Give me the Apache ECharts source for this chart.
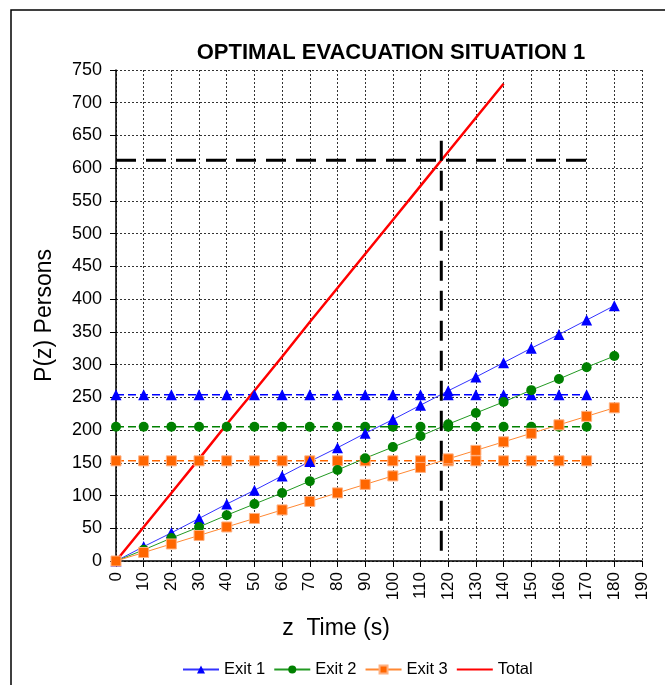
<!DOCTYPE html>
<html><head><meta charset="utf-8">
<script src="https://cdn.jsdelivr.net/npm/echarts@6/dist/echarts.min.js"></script>
<style>html,body{margin:0;padding:0;background:#fff}#c{width:665px;height:685px}</style>
</head><body><div id="c"></div><script>
// time (s)
const times = [0,10,20,30,40,50,60,70,80,90,100,110,120,130,140,150,160,170,180];
// persons through each exit
const exit1 = [0,22,43,65,87,108,130,152,173,195,216,238,260,281,303,325,346,368,390];
const exit2 = [0,17,35,52,70,87,104,122,139,157,174,191,209,226,243,261,278,296,313];
const exit3 = [0,13,26,39,52,65,78,91,104,117,130,143,156,169,182,195,208,221,234];
// total (0..140 s)
const totalTimes = [0,10,20,30,40,50,60,70,80,90,100,110,120,130,140];
const total = [0,52,104,156,209,260,312,365,417,469,521,573,625,677,729];
// exit capacities (0..170 s)
const capTimes = [0,10,20,30,40,50,60,70,80,90,100,110,120,130,140,150,160,170];
const cap1 = [254,254,254,254,254,254,254,254,254,254,254,254,254,254,254,254,254,254];
const cap2 = [205,205,205,205,205,205,205,205,205,205,205,205,205,205,205,205,205,205];
const cap3 = [153,153,153,153,153,153,153,153,153,153,153,153,153,153,153,153,153,153];
// optimal evacuation reference lines
const optTotalLine = [[0,612],[170,612]];
const optTimeLine = [[117.5,642],[117.5,0]];

const pairs = (xs, ys) => xs.map((x,i)=>[x, ys[i]]);
const font = 'Liberation Sans, Arial, sans-serif';

const chart = echarts.init(document.getElementById('c'), null, {renderer:'canvas'});
chart.setOption({
  animation:false,
  backgroundColor:'#fff',
  graphic:[{type:'rect', shape:{x:11,y:10,width:720,height:720}, style:{fill:'none',stroke:'#000',lineWidth:1.5}, z:-1}],
  title:{text:'OPTIMAL EVACUATION SITUATION 1', left:386, textAlign:'center', top:37,
    textStyle:{fontFamily:font, fontWeight:'bold', fontSize:22, color:'#000'}},
  legend:{data:['Exit 1','Exit 2','Exit 3',{name:'Total', itemStyle:{opacity:0}}], left:177, top:656, itemWidth:36, itemHeight:10, itemGap:8,
    textStyle:{fontFamily:font, fontSize:16.5, color:'#000'}},
  grid:{left:116, right:23, top:70, bottom:124, containLabel:false},
  xAxis:{type:'value', min:0, max:190, interval:10,
    name:'z  Time (s)', nameLocation:'middle', nameGap:56,
    nameTextStyle:{fontFamily:font, fontSize:23, color:'#000', padding:[0,86,0,0]},
    axisLine:{show:true, onZero:false, lineStyle:{color:'#000', width:1.5}},
    axisTick:{show:true, length:6, lineStyle:{color:'#000'}},
    axisLabel:{rotate:90, margin:11, fontFamily:font, fontSize:17, color:'#000'},
    splitLine:{show:true, lineStyle:{color:'#333', type:[2,2], width:1}}},
  yAxis:{type:'value', min:0, max:750, interval:50,
    name:'P(z) Persons', nameLocation:'middle', nameGap:60, nameRotate:90,
    nameTextStyle:{fontFamily:font, fontSize:23, color:'#000'},
    axisLine:{show:true, lineStyle:{color:'#000', width:1.5}},
    axisTick:{show:true, length:6, lineStyle:{color:'#000'}},
    axisLabel:{margin:14, fontFamily:font, fontSize:18, color:'#000'},
    splitLine:{show:true, lineStyle:{color:'#333', type:[2,2], width:1}}},
  series:[
    {name:'Exit 1 capacity', type:'line', data:pairs(capTimes, cap1), symbol:'triangle', symbolSize:11,
      itemStyle:{color:'#0000FF'}, lineStyle:{color:'#0000FF', width:1.5, type:[8,4]}},
    {name:'Exit 2 capacity', type:'line', data:pairs(capTimes, cap2), symbol:'circle', symbolSize:10,
      itemStyle:{color:'#008000'}, lineStyle:{color:'#008000', width:1.5, type:[8,4]}},
    {name:'Exit 3 capacity', type:'line', data:pairs(capTimes, cap3), symbol:'rect', symbolSize:10,
      itemStyle:{color:'#FF6600', borderColor:'#FFB080', borderWidth:1}, lineStyle:{color:'#FF6600', width:1.5, type:[8,4]}},
    {name:'Exit 1', type:'line', data:pairs(times, exit1), symbol:'triangle', symbolSize:11,
      itemStyle:{color:'#0000FF'}, lineStyle:{color:'#3333FF', width:1}},
    {name:'Exit 2', type:'line', data:pairs(times, exit2), symbol:'circle', symbolSize:10,
      itemStyle:{color:'#008000'}, lineStyle:{color:'#229922', width:1}},
    {name:'Exit 3', type:'line', data:pairs(times, exit3), symbol:'rect', symbolSize:10,
      itemStyle:{color:'#FF6600', borderColor:'#FFB080', borderWidth:1}, lineStyle:{color:'#FF8833', width:1}},
    {name:'Total', type:'line', data:pairs(totalTimes, total), symbol:'none',
      itemStyle:{color:'#FF0000'}, lineStyle:{color:'#FF0000', width:2.5}},
    {name:'Optimal total', type:'line', data:optTotalLine, symbol:'none', silent:true,
      lineStyle:{color:'#000', width:3, type:[20,10]}},
    {name:'Optimal time', type:'line', data:optTimeLine, symbol:'none', silent:true,
      lineStyle:{color:'#000', width:3, type:[20,10]}}
  ]
});
</script></body></html>
